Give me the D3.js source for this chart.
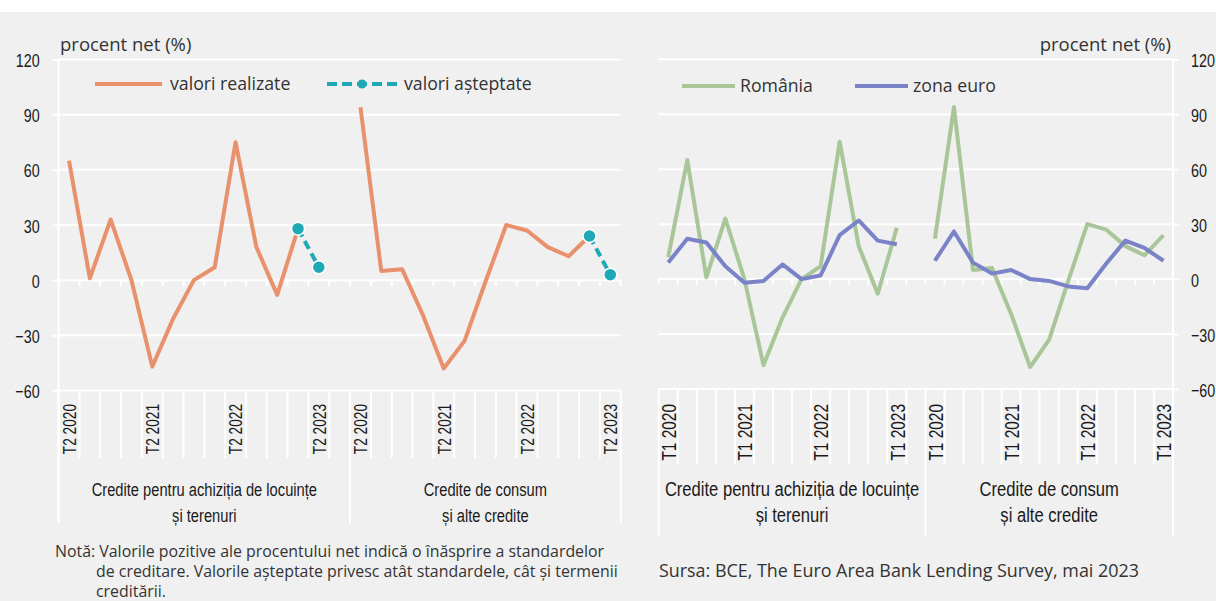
<!DOCTYPE html>
<html>
<head>
<meta charset="utf-8">
<script src="https://cdn.jsdelivr.net/npm/d3@7"></script>
<style>
  body { margin: 0; background: #fff; }
  svg { display: block; }
  .narrow { font-family: "Liberation Sans", Arial, sans-serif; fill: #1a1a1a; }
  .reg { font-family: "Open Sans", "Noto Sans", sans-serif; fill: #333; }
</style>
</head>
<body>
<div id="chart"></div>
<script>
// categories
const quartersLeft = ["T2 2020","T3 2020","T4 2020","T1 2021","T2 2021","T3 2021","T4 2021",
                      "T1 2022","T2 2022","T3 2022","T4 2022","T1 2023","T2 2023"];
const quartersRight = ["T1 2020","T2 2020","T3 2020","T4 2020","T1 2021","T2 2021","T3 2021",
                       "T4 2021","T1 2022","T2 2022","T3 2022","T4 2022","T1 2023"];
const groupLabels = [["Credite pentru achiziția de locuințe", "și terenuri"],
                     ["Credite de consum", "și alte credite"]];
const yTicks = [-60, -30, 0, 30, 60, 90, 120];

// left chart: realised vs expected (Romania)
const realizedHousing  = [65, 1, 33, 0, -47, -21, 0, 7, 75, 18, -8, 28, null];
const expectedHousing  = [null, null, null, null, null, null, null, null, null, null, null, 28, 7];
const realizedConsumer = [94, 5, 6, -19, -48, -33, -1, 30, 27, 18, 13, 24, null];
const expectedConsumer = [null, null, null, null, null, null, null, null, null, null, null, 24, 3];

// right chart: Romania vs euro area
const roHousing  = [12, 65, 1, 33, 0, -47, -21, 0, 7, 75, 18, -8, 28];
const euHousing  = [9, 22, 20, 7, -2, -1, 8, 0, 2, 24, 32, 21, 19];
const roConsumer = [22, 94, 5, 6, -19, -48, -33, -1, 30, 27, 18, 13, 24];
const euConsumer = [10, 26, 9, 3, 5, 0, -1, -4, -5, 8.5, 21, 17, 10];

const ORANGE = "#e9916c", TEAL = "#1fa8b6", GREEN = "#a9c699", BLUE = "#7b83c8";

const svg = d3.select("#chart").append("svg")
  .attr("width", 1216).attr("height", 601);

svg.append("rect").attr("x", 0).attr("y", 12).attr("width", 1216).attr("height", 589).attr("fill", "#f0f0f0");

// squeeze text horizontally (no condensed face installed), keeping its anchor in place
function condense(sel, sx) {
  sel.each(function () {
    const t = d3.select(this);
    const x = +t.attr("x") || 0;
    const prev = t.attr("transform") || "";
    t.attr("x", x / sx).attr("transform", prev + ` scale(${sx},1)`);
  });
}

function makeX(quarters, x0, x1) {
  const domain = [...quarters.map(q => "a|" + q), "gap", ...quarters.map(q => "b|" + q)];
  return d3.scaleBand().domain(domain).range([x0, x1]);
}

// grid, axes, category labels for one chart
function drawFrame(cfg) {
  const { x, y, side, labelPrefix, tickBottom, sepBottom, xFont, groupFont } = cfg;
  const [x0, x1] = x.range();
  const g = svg.append("g");

  // horizontal gridlines
  g.selectAll(".grid").data(yTicks).enter().append("line")
    .attr("x1", x0).attr("x2", x1)
    .attr("y1", d => y(d)).attr("y2", d => y(d))
    .attr("stroke", "#fff").attr("stroke-width", 2);

  // y axis
  const axis = side === "left"
    ? d3.axisLeft(y).tickValues(yTicks).tickSize(6).tickPadding(13)
    : d3.axisRight(y).tickValues(yTicks).tickSize(6).tickPadding(12);
  const axisX = side === "left" ? x0 : x1;
  g.append("g").attr("transform", `translate(${axisX},0)`).call(axis)
    .attr("font-family", null).attr("font-size", null)
    .call(a => a.select(".domain").remove())
    .call(a => a.selectAll("line").attr("stroke", "#fff").attr("stroke-width", 2))
    .call(a => a.selectAll("text").attr("class", "narrow").attr("font-size", 18.6)
      .attr("fill", "#1a1a1a").attr("dy", "0.38em").call(condense, 0.77));

  // vertical axis line
  g.append("line").attr("x1", axisX).attr("x2", axisX)
    .attr("y1", y(120)).attr("y2", sepBottom)
    .attr("stroke", "#fff").attr("stroke-width", 2);

  // band boundaries
  const bounds = x.domain().map(d => x(d)).concat([x1]);
  g.selectAll(".zt").data(bounds).enter().append("line")
    .attr("x1", d => d).attr("x2", d => d)
    .attr("y1", y(0)).attr("y2", y(0) + 6)
    .attr("stroke", "#fff").attr("stroke-width", 2);
  g.selectAll(".bt").data(bounds).enter().append("line")
    .attr("x1", d => d).attr("x2", d => d)
    .attr("y1", y(-60))
    .attr("y2", (d, i) => (i === 0 || i === 14 || i === bounds.length - 1) ? sepBottom : tickBottom)
    .attr("stroke", "#fff").attr("stroke-width", 2);

  // rotated quarter labels
  const labelled = x.domain().filter(d => d.indexOf("|" + labelPrefix) === 1);
  g.selectAll(".xl").data(labelled).enter().append("text")
    .attr("class", "narrow").attr("font-size", xFont)
    .attr("text-anchor", "end")
    .attr("transform", d => `translate(${x(d) + x.bandwidth() / 2 + xFont * 0.37},404) rotate(-90)`)
    .text(d => d.split("|")[1])
    .call(condense, 0.735);

  // group labels
  const centers = [(bounds[0] + bounds[14]) / 2, (bounds[14] + bounds[bounds.length - 1]) / 2];
  groupLabels.forEach((lines, i) => {
    lines.forEach((t, j) => {
      g.append("text").attr("class", "narrow").attr("font-size", groupFont)
        .attr("text-anchor", "middle")
        .attr("x", centers[i]).attr("y", cfg.groupY + j * 26)
        .text(t)
        .call(condense, 0.79);
    });
  });
  return g;
}

function seriesData(quarters, a, b) {
  return [quarters.map((q, i) => ({ k: "a|" + q, v: a[i] })),
          quarters.map((q, i) => ({ k: "b|" + q, v: b[i] }))];
}

function drawLine(x, y, data, color) {
  const line = d3.line().defined(d => d.v != null)
    .x(d => x(d.k) + x.bandwidth() / 2).y(d => y(d.v));
  return svg.selectAll(null).data(data).enter().append("path")
    .attr("d", line).attr("fill", "none").attr("stroke", color)
    .attr("stroke-width", 4).attr("stroke-linejoin", "round");
}

// ---------- left chart ----------
const xL = makeX(quartersLeft, 58.6, 620.7);
const yL = d3.scaleLinear().domain([-60, 120]).range([390.5, 59.5]);
drawFrame({ x: xL, y: yL, side: "left", labelPrefix: "T2", tickBottom: 458, sepBottom: 523,
            groupY: 496, xFont: 18.6, groupFont: 18.6 });

drawLine(xL, yL, seriesData(quartersLeft, realizedHousing, realizedConsumer), ORANGE);
const expData = seriesData(quartersLeft, expectedHousing, expectedConsumer);
drawLine(xL, yL, expData, TEAL).attr("stroke-dasharray", "9,5");
svg.selectAll(null).data(expData.flat().filter(d => d.v != null)).enter().append("circle")
  .attr("cx", d => xL(d.k) + xL.bandwidth() / 2).attr("cy", d => yL(d.v))
  .attr("r", 6.5).attr("fill", TEAL).attr("stroke", "#fff").attr("stroke-width", 1.5);

svg.append("text").attr("class", "reg").attr("font-size", 18.5)
  .attr("x", 60).attr("y", 51).text("procent net (%)");

// legend left
svg.append("line").attr("x1", 95).attr("x2", 162).attr("y1", 84).attr("y2", 84)
  .attr("stroke", ORANGE).attr("stroke-width", 4);
svg.append("text").attr("class", "reg").attr("font-size", 17.7).attr("x", 170).attr("y", 90).text("valori realizate");
svg.append("line").attr("x1", 327).attr("x2", 397).attr("y1", 84).attr("y2", 84)
  .attr("stroke", TEAL).attr("stroke-width", 4).attr("stroke-dasharray", "10,5");
svg.append("circle").attr("cx", 362).attr("cy", 84).attr("r", 4.5).attr("fill", TEAL);
svg.append("text").attr("class", "reg").attr("font-size", 17.7).attr("x", 404).attr("y", 90).text("valori așteptate");

// ---------- right chart ----------
const xR = makeX(quartersRight, 658.7, 1173);
const yR = d3.scaleLinear().domain([-60, 120]).range([389, 59.3]);
drawFrame({ x: xR, y: yR, side: "right", labelPrefix: "T1", tickBottom: 464, sepBottom: 537,
            groupY: 496, xFont: 21, groupFont: 21 });

drawLine(xR, yR, seriesData(quartersRight, roHousing, roConsumer), GREEN);
drawLine(xR, yR, seriesData(quartersRight, euHousing, euConsumer), BLUE);

svg.append("text").attr("class", "reg").attr("font-size", 18.5).attr("text-anchor", "end")
  .attr("x", 1171).attr("y", 51).text("procent net (%)");

svg.append("line").attr("x1", 682).attr("x2", 735).attr("y1", 86).attr("y2", 86)
  .attr("stroke", GREEN).attr("stroke-width", 4);
svg.append("text").attr("class", "reg").attr("font-size", 17.7).attr("x", 740).attr("y", 92).text("România");
svg.append("line").attr("x1", 855).attr("x2", 908).attr("y1", 86).attr("y2", 86)
  .attr("stroke", BLUE).attr("stroke-width", 4);
svg.append("text").attr("class", "reg").attr("font-size", 17.7).attr("x", 913).attr("y", 92).text("zona euro");

// ---------- notes ----------
const note = svg.append("text").attr("class", "reg").attr("font-size", 15.9);
note.append("tspan").attr("x", 55).attr("y", 557)
  .text("Notă: Valorile pozitive ale procentului net indică o înăsprire a standardelor");
note.append("tspan").attr("x", 96).attr("y", 577)
  .text("de creditare. Valorile așteptate privesc atât standardele, cât și termenii");
note.append("tspan").attr("x", 96).attr("y", 597).text("creditării.");

svg.append("text").attr("class", "reg").attr("font-size", 17.9)
  .attr("x", 659).attr("y", 577)
  .text("Sursa: BCE, The Euro Area Bank Lending Survey, mai 2023");
</script>
</body>
</html>
